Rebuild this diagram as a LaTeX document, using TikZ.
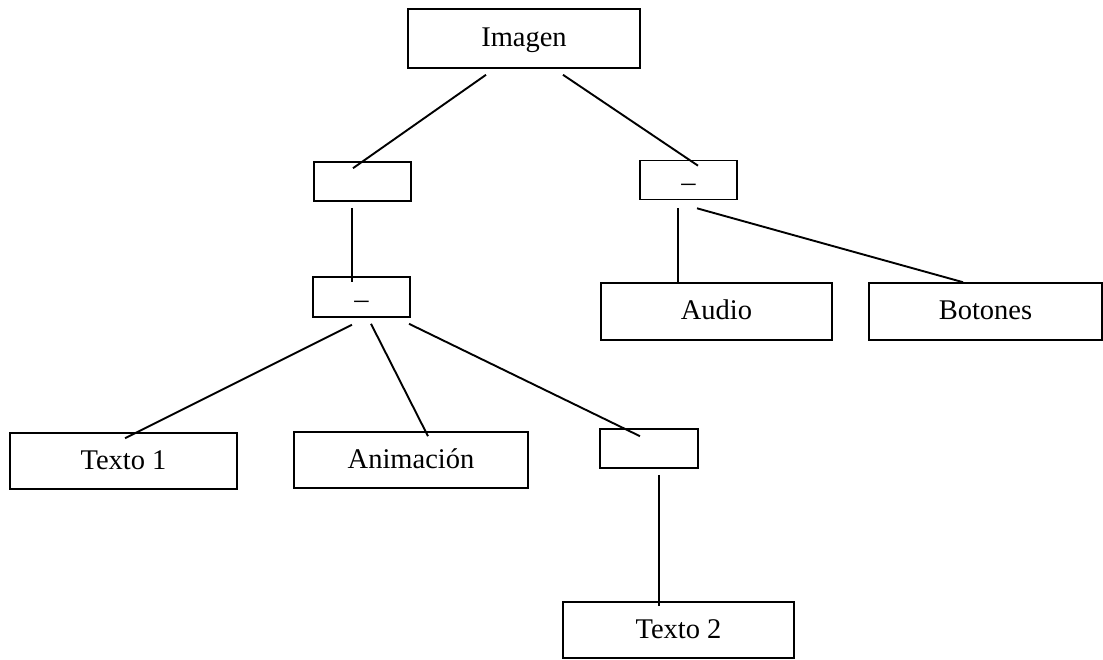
\documentclass[tikz,border=0pt]{standalone}
\usepackage{fontspec}
\setmainfont{Liberation Serif}
\begin{document}
\begin{tikzpicture}[x=1pt,y=-1pt,
  box/.style={draw, line width=1.6pt, inner sep=0pt,
    font=\fontsize{28.5}{34}\selectfont,
    text height=20.5pt, text depth=4pt},
  wide/.style={box, minimum width=232pt, minimum height=57pt},
  small/.style={box, minimum width=97pt, minimum height=39pt,
    text height=22pt, text depth=0pt},
  link/.style={line width=1.9pt}]
  % page frame
  \fill[white] (0,0) rectangle (1103,659);
  \useasboundingbox (0,0) rectangle (1103,659);

  % boxes
  \node[wide, minimum height=59pt] (img) at (524,38.5) {Imagen};
  \node[small] (left) at (362.5,181.5) {};
  \node[small] (right) at (688.5,180) {\textendash};
  \node[small, minimum height=40pt] (mid) at (361.5,297) {\textendash};
  \node[wide, minimum width=231pt] (audio) at (716.5,311.5) {Audio};
  \node[wide, minimum width=233pt] (botones) at (985.5,311.5) {Botones};
  \node[wide, minimum width=227pt, minimum height=56pt] (t1) at (123.5,461) {Texto 1};
  \node[wide, minimum width=234pt, minimum height=56pt] (anim) at (411,460) {Animación};
  \node[small, minimum width=98pt] (low) at (649,448.5) {};
  \node[wide, minimum width=231pt, minimum height=56pt] (t2) at (678.5,630) {Texto 2};

  % connectors
  \draw[link] ([shift={(-38,6)}]img.south) -- ([shift={(-9.5,7)}]left.north);
  \draw[link] ([shift={(39,6)}]img.south) -- ([shift={(9.5,6)}]right.north);
  \draw[link] ([shift={(-10.5,6)}]left.south) -- ([shift={(-9.5,6)}]mid.north);
  \draw[link] ([shift={(-10.5,8)}]right.south) -- ([shift={(-38.5,0)}]audio.north);
  \draw[link] ([shift={(8.5,8)}]right.south) -- ([shift={(-22.5,0)}]botones.north);
  \draw[link] ([shift={(-9.5,7)}]mid.south) -- ([shift={(1.5,6)}]t1.north);
  \draw[link] ([shift={(9.5,6)}]mid.south) -- ([shift={(17,5)}]anim.north);
  \draw[link] ([shift={(47.5,6)}]mid.south) -- ([shift={(-9,8)}]low.north);
  \draw[link] ([shift={(10,6)}]low.south) -- ([shift={(-19.5,5)}]t2.north);
\end{tikzpicture}
\end{document}
